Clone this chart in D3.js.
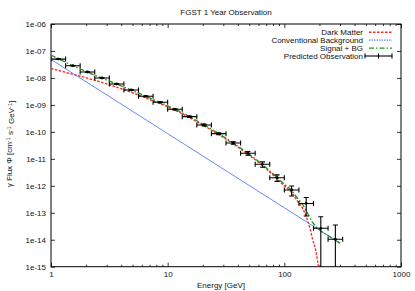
<!DOCTYPE html>
<html>
<head>
<meta charset="utf-8">
<script src="https://cdn.jsdelivr.net/npm/d3@7"></script>
<style>
body { margin:0; background:#fff; }
svg { display:block; font-family:"Liberation Sans", Arial, sans-serif; }
</style>
</head>
<body>
<svg width="415" height="291"></svg>
<script>
// observation bins (GeV)
var binLo = [1, 1.334, 1.778, 2.371, 3.162, 4.217, 5.623, 7.499, 10, 13.34, 17.78, 23.71, 31.62, 42.17, 56.23, 74.99, 100, 133.4, 177.8, 237.1]
var binHi = [1.334, 1.778, 2.371, 3.162, 4.217, 5.623, 7.499, 10, 13.34, 17.78, 23.71, 31.62, 42.17, 56.23, 74.99, 100, 133.4, 177.8, 237.1, 316.2]
var binCenter = [1.155, 1.540, 2.054, 2.738, 3.652, 4.870, 6.494, 8.660, 11.55, 15.40, 20.54, 27.38, 36.52, 48.70, 64.94, 86.60, 115.5, 154.0, 205.4, 273.8]
var obsFlux = [5.0e-8, 2.84e-8, 1.66e-8, 9.95e-9, 5.96e-9, 3.57e-9, 2.08e-9, 1.25e-9, 6.87e-10, 3.66e-10, 1.80e-10, 8.57e-11, 3.87e-11, 1.61e-11, 6.28e-12, 2.0e-12, 7.0e-13, 2.21e-13, 2.66e-14, 1.04e-14]
var obsErr = [1.0e-9, 6e-10, 4e-10, 2.5e-10, 1.8e-10, 1.2e-10, 8e-11, 5.5e-11, 3.5e-11, 2.2e-11, 1.3e-11, 7e-12, 3.9e-12, 2.4e-12, 1.4e-12, 5.4e-13, 2.8e-13, 1.45e-13, 4.5e-14, 2.5e-14]

// model curves
var curveE = [1, 1.5, 2, 3, 4, 5, 7, 10, 15, 20, 30, 40, 50, 70, 100, 115, 130, 145, 155, 165, 175, 185, 192, 198]
var darkMatter = [2.24e-8, 1.41e-8, 1.01e-8, 6.03e-9, 3.98e-9, 2.82e-9, 1.58e-9, 8.41e-10, 3.59e-10, 1.79e-10, 6.25e-11, 2.74e-11, 1.37e-11, 4.25e-12, 1.0e-12, 5.75e-13, 2.66e-13, 1.35e-13, 6.61e-14, 2.88e-14, 1.02e-14, 4.37e-15, 1.78e-15, 6.3e-16]
var bgE = [1, 10, 100, 300]
var background = [4.83e-8, 8.59e-11, 1.53e-13, 7.45e-15]
var totalE = [1, 1.5, 2, 3, 4, 5, 7, 10, 15, 20, 30, 40, 50, 70, 100, 115, 130, 145, 155, 165, 175, 185, 192, 198, 250, 300]
var total = [7.07e-8, 2.99e-8, 1.73e-8, 8.38e-9, 5.05e-9, 3.40e-9, 1.81e-9, 9.27e-10, 3.87e-10, 1.92e-10, 6.67e-11, 2.93e-11, 1.47e-11, 4.66e-12, 1.15e-12, 6.79e-13, 3.40e-13, 1.90e-13, 1.12e-13, 6.74e-14, 4.30e-14, 3.25e-14, 2.72e-14, 2.39e-14, 1.23e-14, 7.45e-15]

var xTicks = [1, 10, 100, 1000]
var yTicks = [1e-15, 1e-14, 1e-13, 1e-12, 1e-11, 1e-10, 1e-9, 1e-8, 1e-7, 1e-6]
var legendNames = ["Dark Matter", "Conventional Background", "Signal + BG", "Predicted Observation"]

var svg = d3.select("svg")
var L = 51, R = 401, T = 24, B = 266.7

var x = d3.scaleLog().domain([1, 1000]).range([L, R])
var y = d3.scaleLog().domain([1e-15, 1e-6]).range([B, T])

var minor = []
xTicks.slice(0, 3).forEach(d => { for (var k = 2; k < 10; k++) minor.push(d * k) })

function fmtY(d){
	var e = Math.round(Math.log10(d))
	return "1e" + (e < 0 ? "-" : "+") + String(Math.abs(e)).padStart(2, "0")
}

// axes, ticks pointing inward
function styleAxis(g){
	g.select(".domain").remove()
	g.selectAll("line").attr("stroke", "#000").attr("stroke-width", 0.8)
	g.selectAll("text").attr("font-size", 8).attr("fill", "#111").attr("font-family", "Liberation Sans, Arial, sans-serif")
}

svg.append("g").attr("transform", "translate(0," + B + ")")
	.call(d3.axisBottom(x).tickValues(xTicks).tickFormat(d3.format("d")).tickSize(-4).tickPadding(5)).call(styleAxis)
svg.append("g").attr("transform", "translate(0," + B + ")")
	.call(d3.axisBottom(x).tickValues(minor).tickFormat("").tickSize(-2)).call(styleAxis)
svg.append("g").attr("transform", "translate(0," + T + ")")
	.call(d3.axisTop(x).tickValues(xTicks).tickFormat("").tickSize(-4)).call(styleAxis)
svg.append("g").attr("transform", "translate(0," + T + ")")
	.call(d3.axisTop(x).tickValues(minor).tickFormat("").tickSize(-2)).call(styleAxis)
svg.append("g").attr("transform", "translate(" + L + ",0)")
	.call(d3.axisLeft(y).tickValues(yTicks).tickFormat(fmtY).tickSize(-4).tickPadding(5)).call(styleAxis)
svg.append("g").attr("transform", "translate(" + R + ",0)")
	.call(d3.axisRight(y).tickValues(yTicks).tickFormat("").tickSize(-4)).call(styleAxis)

svg.append("rect").attr("x", L).attr("y", T).attr("width", R - L).attr("height", B - T)
	.attr("fill", "none").attr("stroke", "#000").attr("stroke-width", 1)

svg.append("clipPath").attr("id", "clip").append("rect")
	.attr("x", L).attr("y", T).attr("width", R - L).attr("height", B - T)
var plot = svg.append("g").attr("clip-path", "url(#clip)")

function line(xs){
	return d3.line().x((d, i) => x(xs[i])).y(d => y(d)).curve(d3.curveMonotoneX)
}

plot.append("path").datum(darkMatter).attr("d", line(curveE))
	.attr("fill", "none").attr("stroke", "#ff2a1a").attr("stroke-width", 1.4).attr("stroke-dasharray", "2.5,1.5")
plot.append("path").datum(background).attr("d", line(bgE))
	.attr("fill", "none").attr("stroke", "#6688f2").attr("stroke-width", 1)
plot.append("path").datum(total).attr("d", line(totalE))
	.attr("fill", "none").attr("stroke", "#1e9a1e").attr("stroke-width", 1.4).attr("stroke-dasharray", "5,2,1.5,2")

// predicted observation, xy error bars
var cap = 2.5
var obs = plot.selectAll(".obs").data(obsFlux).enter().append("g").attr("class", "obs")
	.attr("stroke", "#000").attr("stroke-width", 1.1)
obs.append("line").attr("x1", (d, i) => x(binLo[i])).attr("x2", (d, i) => x(binHi[i])).attr("y1", d => y(d)).attr("y2", d => y(d))
obs.append("line").attr("x1", (d, i) => x(binLo[i])).attr("x2", (d, i) => x(binLo[i])).attr("y1", d => y(d) - cap).attr("y2", d => y(d) + cap)
obs.append("line").attr("x1", (d, i) => x(binHi[i])).attr("x2", (d, i) => x(binHi[i])).attr("y1", d => y(d) - cap).attr("y2", d => y(d) + cap)
function yLow(d, i){ var v = d - obsErr[i]; return v > 1e-16 ? y(v) : B + 10 }
obs.append("line").attr("x1", (d, i) => x(binCenter[i])).attr("x2", (d, i) => x(binCenter[i]))
	.attr("y1", (d, i) => y(d + obsErr[i])).attr("y2", yLow)
obs.append("line").attr("x1", (d, i) => x(binCenter[i]) - cap).attr("x2", (d, i) => x(binCenter[i]) + cap)
	.attr("y1", (d, i) => y(d + obsErr[i])).attr("y2", (d, i) => y(d + obsErr[i]))
obs.append("line").attr("x1", (d, i) => x(binCenter[i]) - cap).attr("x2", (d, i) => x(binCenter[i]) + cap)
	.attr("y1", yLow).attr("y2", yLow)
obs.append("circle").attr("cx", (d, i) => x(binCenter[i])).attr("cy", d => y(d)).attr("r", 1.4).attr("fill", "#000").attr("stroke", "none")

// legend
var lg = svg.append("g")
var rowY = [32.3, 40.2, 48.1, 56]
lg.selectAll("text").data(legendNames).enter().append("text")
	.attr("x", 363).attr("y", (d, i) => rowY[i]).attr("dy", "0.35em").attr("text-anchor", "end")
	.attr("font-size", 8).attr("fill", "#111").text(d => d)
lg.append("line").attr("x1", 369).attr("x2", 392).attr("y1", rowY[0]).attr("y2", rowY[0])
	.attr("stroke", "#ff2a1a").attr("stroke-width", 1.4).attr("stroke-dasharray", "2.5,1.5")
lg.append("line").attr("x1", 369).attr("x2", 392).attr("y1", rowY[1]).attr("y2", rowY[1])
	.attr("stroke", "#6688f2").attr("stroke-width", 1.2).attr("stroke-dasharray", "1.5,1")
lg.append("line").attr("x1", 369).attr("x2", 392).attr("y1", rowY[2]).attr("y2", rowY[2])
	.attr("stroke", "#1e9a1e").attr("stroke-width", 1.4).attr("stroke-dasharray", "5,2,1.5,2")
var ly = rowY[3]
lg.append("g").attr("stroke", "#000").attr("stroke-width", 1.1).selectAll("line")
	.data([[365, ly, 392, ly], [365, ly - cap, 365, ly + cap], [392, ly - cap, 392, ly + cap], [378.5, ly - cap, 378.5, ly + cap]])
	.enter().append("line").attr("x1", d => d[0]).attr("y1", d => d[1]).attr("x2", d => d[2]).attr("y2", d => d[3])

// titles
svg.append("text").attr("x", 226).attr("y", 12).attr("dy", "0.35em").attr("text-anchor", "middle")
	.attr("font-size", 8).attr("fill", "#111").text("FGST 1 Year Observation")
svg.append("text").attr("x", 221).attr("y", 285).attr("dy", "0.35em").attr("text-anchor", "middle")
	.attr("font-size", 8).attr("fill", "#111").text("Energy [GeV]")
var yl = svg.append("text").attr("transform", "translate(9,144) rotate(-90)").attr("text-anchor", "middle").attr("font-size", 8).attr("fill", "#111").attr("dy", "0.35em")
yl.append("tspan").text("γ Flux Φ [cm")
yl.append("tspan").attr("font-size", 5.5).attr("dy", "-0.35em").text("-1")
yl.append("tspan").attr("dy", "0.35em").text(" s")
yl.append("tspan").attr("font-size", 5.5).attr("dy", "-0.35em").text("-1")
yl.append("tspan").attr("dy", "0.35em").text(" GeV")
yl.append("tspan").attr("font-size", 5.5).attr("dy", "-0.35em").text("-1")
yl.append("tspan").attr("dy", "0.35em").text("]")
</script>
</body>
</html>
